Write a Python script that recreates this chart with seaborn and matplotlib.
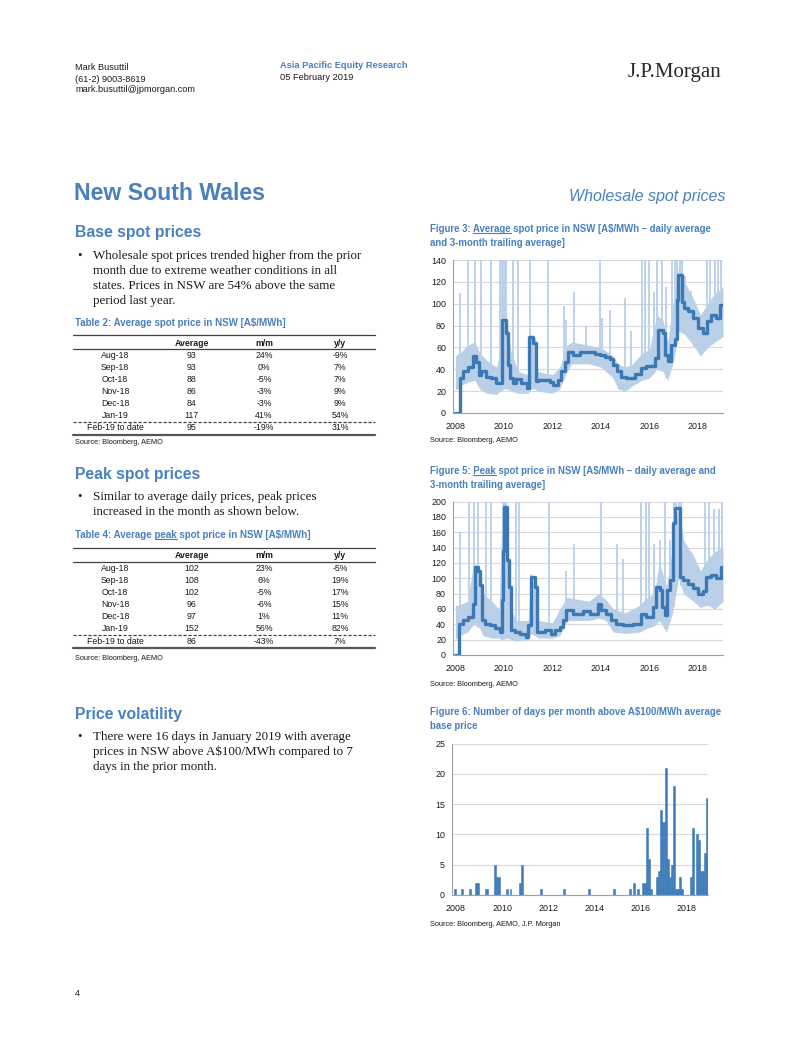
import numpy as np
import pandas as pd
import matplotlib
matplotlib.use("Agg")
import matplotlib.pyplot as plt
import seaborn as sns
from matplotlib.lines import Line2D

# ---------------- data ----------------
tbl_months = ['Aug-18', 'Sep-18', 'Oct-18', 'Nov-18', 'Dec-18', 'Jan-19', 'Feb-19 to date']
base_avg = ['93', '93', '88', '86', '84', '117', '95']
base_mm = ['24%', '0%', '-5%', '-3%', '-3%', '41%', '-19%']
base_yy = ['-9%', '7%', '7%', '9%', '9%', '54%', '31%']
peak_avg = ['102', '108', '102', '96', '97', '152', '86']
peak_mm = ['23%', '6%', '-5%', '-6%', '1%', '56%', '-43%']
peak_yy = ['-5%', '19%', '17%', '15%', '11%', '82%', '7%']

# Figure 3: 3-month trailing average (base), decimal years
base_avg_t = [2008.00, 2008.18, 2008.31, 2008.52, 2008.73, 2008.86, 2008.97, 2009.07, 2009.28, 2009.48,
              2009.69, 2009.90, 2009.94, 2010.07, 2010.17, 2010.24, 2010.37, 2010.51, 2010.72, 2010.93,
              2011.03, 2011.20, 2011.31, 2011.40, 2011.89, 2012.02, 2012.23, 2012.37, 2012.51, 2012.64,
              2012.85, 2013.12, 2013.74, 2013.95, 2014.15, 2014.36, 2014.50, 2014.64, 2014.84, 2015.05,
              2015.39, 2015.67, 2015.87, 2016.22, 2016.35, 2016.56, 2016.63, 2016.76, 2016.87, 2017.04,
              2017.12, 2017.18, 2017.34, 2017.42, 2017.59, 2017.79, 2018.00, 2018.20, 2018.35, 2018.55,
              2018.76, 2018.90, 2019.03]
base_avg_v = [0, 32, 38, 42, 52, 47, 35, 38, 33, 32,
              27, 60, 85, 73, 44, 32, 27, 31, 27, 23,
              70, 64, 29, 30, 28, 26, 30, 38, 47, 56,
              53, 56, 54, 53, 51, 49, 44, 38, 33, 32,
              36, 41, 43, 50, 76, 73, 53, 48, 62, 68,
              103, 126, 102, 96, 93, 87, 78, 73, 84, 90,
              87, 99, 99]
# daily range (typical low / high) and daily spikes
base_band_t = [2008.0, 2008.15, 2008.2, 2008.5, 2008.8, 2009.0, 2009.3, 2009.7, 2009.85, 2010.0,
               2010.15, 2010.3, 2010.6, 2011.0, 2011.1, 2011.3, 2011.4, 2012.0, 2012.3, 2012.6,
               2012.8, 2013.5, 2014.0, 2014.5, 2014.7, 2015.0, 2015.3, 2015.7, 2016.0, 2016.3,
               2016.55, 2016.75, 2017.0, 2017.2, 2017.45, 2017.8, 2018.1, 2018.4, 2018.7, 2019.03]
base_band_lo = [22, 22, 25, 28, 30, 22, 18, 17, 20, 22,
                22, 20, 18, 18, 22, 22, 20, 18, 22, 38,
                45, 45, 42, 32, 22, 20, 25, 30, 32, 40,
                38, 30, 48, 75, 72, 62, 52, 60, 65, 70]
base_band_hi = [52, 55, 55, 62, 65, 55, 48, 42, 60, 110,
                80, 55, 38, 35, 72, 68, 38, 35, 42, 62,
                65, 62, 60, 52, 45, 42, 45, 55, 58, 90,
                85, 65, 105, 135, 120, 105, 90, 100, 110, 115]
base_spike_t = [2008.2, 2008.53, 2008.8, 2009.07, 2009.48, 2009.83, 2009.9, 2009.97, 2010.04, 2010.1,
                2010.37, 2010.58, 2011.06, 2011.81, 2012.46, 2012.57, 2012.87, 2013.4, 2013.95, 2014.05,
                2014.36, 2014.98, 2015.25, 2015.68, 2015.8, 2016.0, 2016.2, 2016.32, 2016.5, 2016.7,
                2016.92, 2017.05, 2017.15, 2017.25, 2017.32, 2017.45, 2017.7, 2017.85, 2018.35, 2018.5,
                2018.7, 2018.82, 2018.95]
base_spike_v = [110, 140, 140, 140, 140, 140, 140, 140, 140, 140,
                140, 140, 140, 140, 98, 85, 111, 80, 140, 87,
                94, 105, 75, 140, 140, 140, 111, 140, 140, 115,
                140, 140, 140, 140, 140, 125, 112, 99, 140, 140,
                140, 140, 140]

# Figure 5: peak prices
peak_avg_t = [2008.00, 2008.15, 2008.32, 2008.52, 2008.73, 2008.80, 2008.93, 2009.03, 2009.11, 2009.21,
              2009.41, 2009.62, 2009.83, 2009.94, 2009.97, 2009.99, 2010.13, 2010.21, 2010.31, 2010.45,
              2010.65, 2010.90, 2010.99, 2011.13, 2011.27, 2011.37, 2011.68, 2011.96, 2012.09, 2012.30,
              2012.44, 2012.57, 2012.85, 2013.26, 2013.54, 2013.88, 2014.02, 2014.22, 2014.43, 2014.63,
              2014.91, 2015.32, 2015.66, 2015.87, 2016.15, 2016.28, 2016.42, 2016.53, 2016.63, 2016.72,
              2016.86, 2016.97, 2017.04, 2017.24, 2017.38, 2017.59, 2017.79, 2018.00, 2018.21, 2018.34,
              2018.55, 2018.76, 2018.96, 2019.03]
peak_avg_v = [0, 41, 46, 50, 67, 115, 109, 91, 46, 41,
              39, 35, 30, 72, 135, 193, 124, 89, 33, 30,
              28, 24, 39, 102, 89, 30, 33, 28, 32, 37,
              46, 59, 54, 57, 54, 67, 59, 54, 46, 41,
              39, 41, 54, 50, 63, 89, 85, 63, 52, 85,
              98, 172, 191, 102, 98, 93, 87, 80, 83, 102,
              104, 100, 115, 115]
peak_band_t = [2008.0, 2008.15, 2008.5, 2008.75, 2009.0, 2009.15, 2009.5, 2009.8, 2009.9, 2010.15,
               2010.3, 2010.5, 2011.0, 2011.1, 2011.3, 2011.4, 2012.0, 2012.3, 2012.6, 2013.5,
               2013.9, 2014.2, 2014.5, 2015.0, 2015.6, 2015.9, 2016.2, 2016.4, 2016.7, 2016.95,
               2017.2, 2017.4, 2017.8, 2018.1, 2018.4, 2018.7, 2019.03]
peak_band_lo = [20, 25, 30, 40, 35, 25, 22, 22, 20, 22,
                20, 18, 20, 28, 25, 22, 22, 25, 45, 45,
                48, 45, 30, 28, 30, 35, 38, 45, 30, 55,
                100, 80, 70, 62, 65, 60, 70]
peak_band_hi = [65, 65, 70, 120, 110, 80, 70, 60, 170, 160,
                60, 45, 45, 100, 95, 45, 42, 60, 75, 70,
                80, 72, 60, 55, 65, 75, 80, 120, 90, 140,
                200, 150, 130, 110, 125, 135, 140]
peak_spike_t = [2008.2, 2008.57, 2008.77, 2008.93, 2009.28, 2009.48, 2009.97, 2010.03, 2010.09, 2010.5,
                2010.62, 2011.1, 2011.86, 2012.55, 2012.88, 2014.0, 2014.65, 2014.9, 2015.66, 2015.87,
                2016.0, 2016.2, 2016.42, 2016.63, 2016.86, 2017.0, 2017.1, 2017.2, 2017.3, 2018.27,
                2018.47, 2018.67, 2018.87, 2019.0]
peak_spike_v = [160, 200, 200, 200, 200, 200, 200, 200, 200, 200,
                200, 105, 200, 110, 145, 200, 145, 125, 200, 200,
                200, 145, 150, 200, 150, 200, 200, 200, 200, 200,
                200, 190, 190, 200]

# Figure 6: days per month above A$100/MWh, Jan-2008 .. Jan-2019
days_above_100 = [0, 1, 0, 0, 0, 1, 0, 0, 0, 1, 0, 0,       # 2008
                  2, 2, 0, 0, 0, 1, 1, 0, 0, 0, 5, 3,       # 2009
                  3, 0, 0, 0, 1, 0, 1, 0, 0, 0, 0, 2,       # 2010
                  5, 0, 0, 0, 0, 0, 0, 0, 0, 0, 1, 0,       # 2011
                  0, 0, 0, 0, 0, 0, 0, 0, 0, 0, 1, 0,       # 2012
                  0, 0, 0, 0, 0, 0, 0, 0, 0, 0, 0, 1,       # 2013
                  0, 0, 0, 0, 0, 0, 0, 0, 0, 0, 0, 0,       # 2014
                  1, 0, 0, 0, 0, 0, 0, 0, 1, 0, 2, 0,       # 2015
                  1, 0, 0, 2, 2, 11, 6, 1, 0, 0, 3, 4,      # 2016
                  14, 12, 12, 21, 6, 3, 5, 18, 1, 1, 3, 1,  # 2017
                  0, 0, 0, 0, 3, 11, 0, 10, 9, 4, 4, 7,     # 2018
                  16]                                       # 2019
year_labels = ['2008', '2010', '2012', '2014', '2016', '2018']

# ---------------- styling ----------------
W, H = 802, 1037
BLUE = '#4a80bd'
DARK = '#3b78b4'
LIGHT = '#b9d0e8'
BAR = '#3f7dbb'
GRID = '#d9d9d9'
AXC = '#a0a0a0'
TXT = '#1a1a1a'
SERIF = ['Liberation Serif', 'DejaVu Serif']

sns.set_style('white')
plt.rcParams['font.family'] = ['Liberation Sans', 'DejaVu Sans']

fig = plt.figure(figsize=(W / 100, H / 100), dpi=100)
renderer = fig.canvas.get_renderer()


def fx(x):
    return x / W


def fy(y):
    return 1 - y / H


def txt(x, y, s, size=6.7, color=TXT, **kw):
    kw.setdefault('va', 'center')
    return fig.text(fx(x), fy(y), s, fontsize=size, color=color, **kw)


def hline(x0, x1, y, lw=0.8, ls='-', color='#404040'):
    fig.add_artist(Line2D([fx(x0), fx(x1)], [fy(y), fy(y)], transform=fig.transFigure,
                          color=color, lw=lw, ls=ls))


def width_px(s, **kw):
    t = fig.text(0, 0, s, **kw)
    w = t.get_window_extent(renderer).width
    t.remove()
    return w


def underlined(x, y, line, word, size, color, weight='bold'):
    txt(x, y, line, size, color, weight=weight)
    end = line.index(word) + len(word)
    w_end = width_px(line[:end], fontsize=size, weight=weight)
    w_word = width_px(word, fontsize=size, weight=weight)
    hline(x + w_end - w_word, x + w_end, y + size * 0.62, lw=0.8, color=color)


def make_ax(l, r, t, b):
    return fig.add_axes([fx(l), fy(b), (r - l) / W, (b - t) / H])


def style_ax(ax):
    for s in ['top', 'right']:
        ax.spines[s].set_visible(False)
    for s in ['left', 'bottom']:
        ax.spines[s].set_color(AXC)
        ax.spines[s].set_linewidth(0.8)
    ax.grid(axis='y', color=GRID, lw=0.8)
    ax.grid(axis='x', visible=False)
    ax.set_axisbelow(True)
    ax.tick_params(labelsize=6.4, length=3, width=0.7, color=AXC, labelcolor=TXT)
    ax.tick_params(axis='x', pad=3.5)
    ax.tick_params(axis='y', pad=2)
    ax.set_xlabel('')
    ax.set_ylabel('')


# ---------------- header ----------------
txt(75, 67, 'Mark Busuttil', 6.6)
txt(75, 79, '(61-2) 9003-8619', 6.6)
txt(75, 90, 'mark.busuttil@jpmorgan.com', 6.6)
txt(280, 66, 'Asia Pacific Equity Research', 6.7, BLUE, weight='bold')
txt(280, 77, '05 February 2019', 6.7)
txt(721, 72, 'J.P.Morgan', 15, '#2a2a2a', ha='right', family=SERIF)

txt(74, 193, 'New South Wales', 16.7, BLUE, weight='bold')
txt(725, 196, 'Wholesale spot prices', 11.5, BLUE, ha='right', style='italic')


# ---------------- left column ----------------
def bullet(y0, lines):
    txt(77, y0, '\u2022', 9, family=SERIF)
    for k, ln in enumerate(lines):
        txt(93, y0 + 15 * k, ln, 9.4, family=SERIF)


def table(y_top, avg, mm, yy):
    hline(73, 375, y_top, lw=0.9)
    hy = y_top + 8
    txt(191.7, hy, 'Average', 6.3, ha='center', weight='bold')
    txt(264, hy, 'm/m', 6.3, ha='center', weight='bold')
    txt(340, hy, 'y/y', 6.3, ha='center', weight='bold')
    hline(73, 375, y_top + 14, lw=0.9)
    for k in range(len(tbl_months)):
        yy_ = y_top + 20.3 + 12.1 * k if k < 6 else y_top + 93
        txt(115, yy_, tbl_months[k], 6.3, ha='center')
        txt(191.7, yy_, avg[k], 6.3, ha='center')
        txt(264, yy_, mm[k], 6.3, ha='center')
        txt(340, yy_, yy[k], 6.3, ha='center')
    hline(73, 375, y_top + 86.7, lw=0.9, ls=(0, (2.5, 1.5)))
    hline(73, 375, y_top + 100, lw=1.6, color='#555555')


txt(75, 232, 'Base spot prices', 11.3, BLUE, weight='bold')
bullet(256, ['Wholesale spot prices trended higher from the prior',
             'month due to extreme weather conditions in all',
             'states. Prices in NSW are 54% above the same',
             'period last year.'])
txt(75, 323, 'Table 2: Average spot price in NSW [A$/MWh]', 7.0, BLUE, weight='bold')
table(335, base_avg, base_mm, base_yy)
txt(75, 442, 'Source: Bloomberg, AEMO', 5.3)

txt(75, 475, 'Peak spot prices', 11.3, BLUE, weight='bold')
bullet(497, ['Similar to average daily prices, peak prices',
             'increased in the month as shown below.'])
underlined(75, 535, 'Table 4: Average peak spot price in NSW [A$/MWh]', 'peak', 7.0, BLUE)
table(548, peak_avg, peak_mm, peak_yy)
txt(75, 658, 'Source: Bloomberg, AEMO', 5.3)

txt(75, 715, 'Price volatility', 11.3, BLUE, weight='bold')
bullet(737, ['There were 16 days in January 2019 with average',
             'prices in NSW above A$100/MWh compared to 7',
             'days in the prior month.'])

txt(75, 993, '4', 6.5)

# ---------------- right column: figure titles ----------------
underlined(430, 229, 'Figure 3: Average spot price in NSW [A$/MWh \u2013 daily average', 'Average', 6.95, BLUE)
txt(430, 243, 'and 3-month trailing average]', 6.95, BLUE, weight='bold')
txt(430, 441, 'Source: Bloomberg, AEMO', 5.3)

underlined(430, 471, 'Figure 5: Peak spot price in NSW [A$/MWh \u2013 daily average and', 'Peak', 6.95, BLUE)
txt(430, 485, '3-month trailing average]', 6.95, BLUE, weight='bold')
txt(430, 685, 'Source: Bloomberg, AEMO', 5.3)

txt(430, 712, 'Figure 6: Number of days per month above A$100/MWh average', 6.95, BLUE, weight='bold')
txt(430, 726, 'base price', 6.95, BLUE, weight='bold')
txt(430, 925, 'Source: Bloomberg, AEMO, J.P. Morgan', 5.3)


# ---------------- price charts ----------------
def price_chart(ax, band_t, lo, hi, spike_t, spike_v, avg_t, avg_v, ymax):
    ax.fill_between(band_t, lo, hi, color=LIGHT, lw=0)
    ax.vlines(spike_t, np.interp(spike_t, band_t, lo), spike_v, color=LIGHT, lw=1.3)
    df = pd.DataFrame({'t': avg_t, 'v': avg_v})
    sns.lineplot(data=df, x='t', y='v', ax=ax, color=DARK, lw=2.4, estimator=None,
                 drawstyle='steps-post')
    ax.set_xlim(2007.9, 2019.03)
    ax.set_ylim(0, ymax)
    ax.set_yticks(np.arange(0, ymax + 1, 20))
    ax.set_xticks([int(y) for y in year_labels])
    ax.set_xticklabels(year_labels)
    style_ax(ax)


ax3 = make_ax(453, 723, 260, 413)
price_chart(ax3, base_band_t, base_band_lo, base_band_hi, base_spike_t, base_spike_v,
            base_avg_t, base_avg_v, 140)

ax5 = make_ax(453, 723, 501.5, 655)
price_chart(ax5, peak_band_t, peak_band_lo, peak_band_hi, peak_spike_t, peak_spike_v,
            peak_avg_t, peak_avg_v, 200)

# ---------------- days above $100 ----------------
months = pd.date_range('2008-01-01', periods=len(days_above_100), freq='MS')
bars = pd.DataFrame({'idx': np.arange(len(months)), 'days': days_above_100})
ax6 = make_ax(452, 708, 743.5, 895)
ax6.bar(bars['idx'], bars['days'], width=1.0, color=BAR, edgecolor=BAR, lw=0.4)
ax6.set_xlim(-0.4, 132.6)
ax6.set_ylim(0, 25)
ax6.set_yticks(np.arange(0, 26, 5))
ax6.set_xticks(np.arange(len(year_labels)) * 24 + 1.6)
ax6.set_xticklabels(year_labels)
style_ax(ax6)

fig.savefig('out.png', dpi=100)
